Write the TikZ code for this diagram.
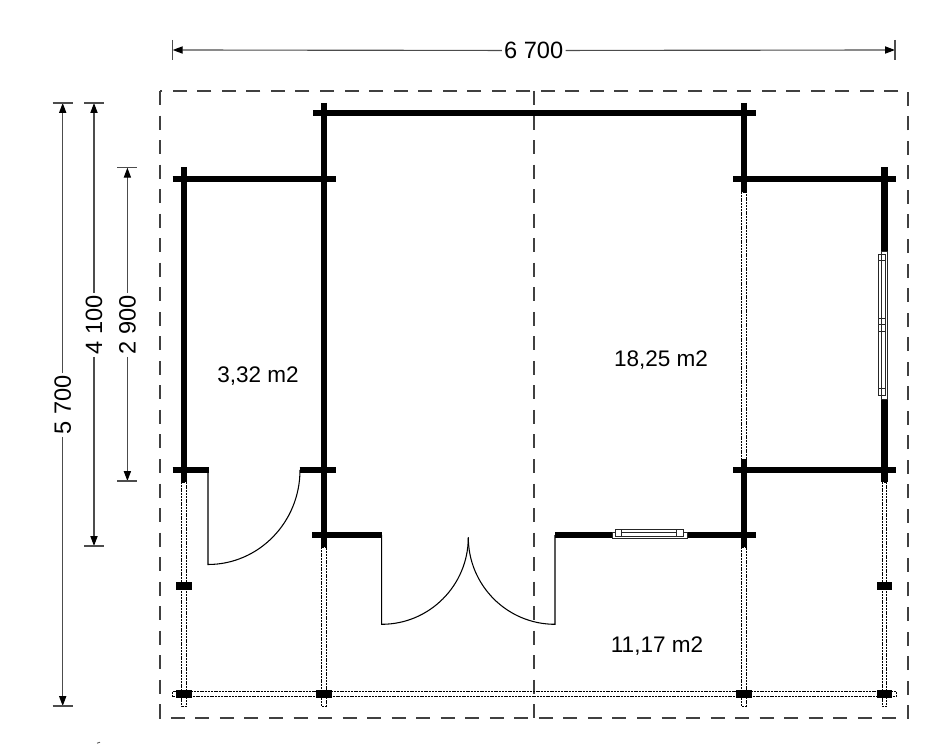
\documentclass[tikz,border=0pt]{standalone}
\usepackage{fontspec}
\setmainfont{Liberation Sans}
\usetikzlibrary{arrows.meta}

\begin{document}
\begin{tikzpicture}[
x=0.75pt,
y=-0.75pt,
wall/.style={
  line width=4.8pt
  },
outline/.style={
  line width=0.95pt,
  draw=black!75,
  dash pattern=on 10.5pt off 7.9pt
  },
light/.style={
  line width=0.65pt,
  dash pattern=on 1.5pt off 0.6pt
  },
door/.style={
  line width=0.8pt
  },
frame/.style={
  line width=0.55pt,
  draw=black!85,
  fill=white
  },
dim/.style={
  line width=0.85pt,
  draw=black!70
  },
tip/.style={
  -{Triangle[length=7.5pt,width=5.4pt,black]}
  },
label/.style={
  font=\fontsize{16.9}{20}\selectfont,
  inner sep=1.5pt
  },
dimlabel/.style={
  font=\fontsize{17.7}{20}\selectfont,
  inner sep=1.5pt
  }
]
\useasboundingbox (0,0) rectangle (938,745);
% outline of the roof
\draw[outline] (160,91) rectangle (908,718);
\draw[outline] (534,91) -- (534,718);
% light walls of the terrace
\foreach \ax/\ay/\by in {184/482/706,324/547/706,744/192/459,744/547/706,884.3/482/706}
  \draw[light] (\ax-2.3,\ay) rectangle (\ax+2.3,\by);
\draw[light] (172.5,691.7) rectangle (896,696.7);
% log walls
\foreach \ay/\ax/\bx in {113/313/756,179/172.5/335.5,179/733/896,470/172.5/208.5,470/299.5/335.5,470/733/896,535/312/381.5,535/555/612,535/687/756}
  \draw[wall] (\ax,\ay) -- (\bx,\ay);
\foreach \ax/\ay/\by in {324/103/547,184/167.5/482,744/103/192,744/459/547,884.3/167.5/251,884.3/399/482}
  \draw[wall] (\ax,\ay) -- (\ax,\by);
% posts
\foreach \ax/\ay in {184/694,324/694,744/694,884.3/694,184/586,884.3/586}
  \fill (\ax-7.7,\ay-3.8) rectangle (\ax+7.7,\ay+3.8);
% doors
\foreach \hx/\hy/\ly/\dx/\dy in {208/470/470/92/94.5,381.7/535/537.3/86.6/87,555/535/537.3/-86.7/87}
  \draw[door] (\hx,\hy) -- (\hx,\ly+\dy) .. controls (\hx+0.5523*\dx,\ly+\dy) and (\hx+\dx,\ly+0.5523*\dy) .. (\hx+\dx,\ly);
% windows
\draw[frame] (612,532) rectangle (687,538);
\draw[frame] (615.3,529.3) rectangle (683.7,536);
\draw[frame] (621.7,529.3) -- (621.7,536) (676.7,529.3) -- (676.7,536) (621.7,532) -- (676.7,532);
\draw[frame] (881.3,251) rectangle (887.3,399);
\draw[frame] (878.7,254) rectangle (885,395);
\draw[frame] (881.3,254) -- (881.3,395);
\foreach \ay in {260.7,318.7,324,331,388.7}
  \draw[frame] (878.7,\ay) -- (885,\ay);
% dimensions
\node[dimlabel] (dimw) at (533.7,50.5) {6 700};
\coordinate (dimw-a) at (172.7,50);
\coordinate (dimw-b) at (895,50);
\draw[dim,tip] (dimw) -- (dimw-a);
\draw[dim,tip] (dimw) -- (dimw-b);
\draw[dim] (172.7,40) -- (172.7,60);
\draw[dim] (895,40) -- (895,60);
\foreach \nm/\txt/\ax/\ay/\ty/\by in {dima/5 700/62.7/103/405/706,dimb/4 100/94/103/325/546,dimc/2 900/127.4/167.7/325/481}
{
  \node[dimlabel,rotate=90] (\nm) at (\ax,\ty) {\txt};
  \coordinate (\nm-a) at (\ax,\ay);
  \coordinate (\nm-b) at (\ax,\by);
  \draw[dim,tip] (\nm) -- (\nm-a);
  \draw[dim,tip] (\nm) -- (\nm-b);
  \draw[dim] (\ax-10,\ay) -- (\ax+10,\ay);
  \draw[dim] (\ax-10,\by) -- (\ax+10,\by);
}
% areas
\node[label] (rooma) at (258,376) {3,32 m2};
\node[label] (roomb) at (661,360.5) {18,25 m2};
\node[label] (roomc) at (657,646) {11,17 m2};
% speck at the lower edge
\draw[line width=0.6pt,black!70] (97,743.2) -- (100,742.2);
\end{tikzpicture}
\end{document}
